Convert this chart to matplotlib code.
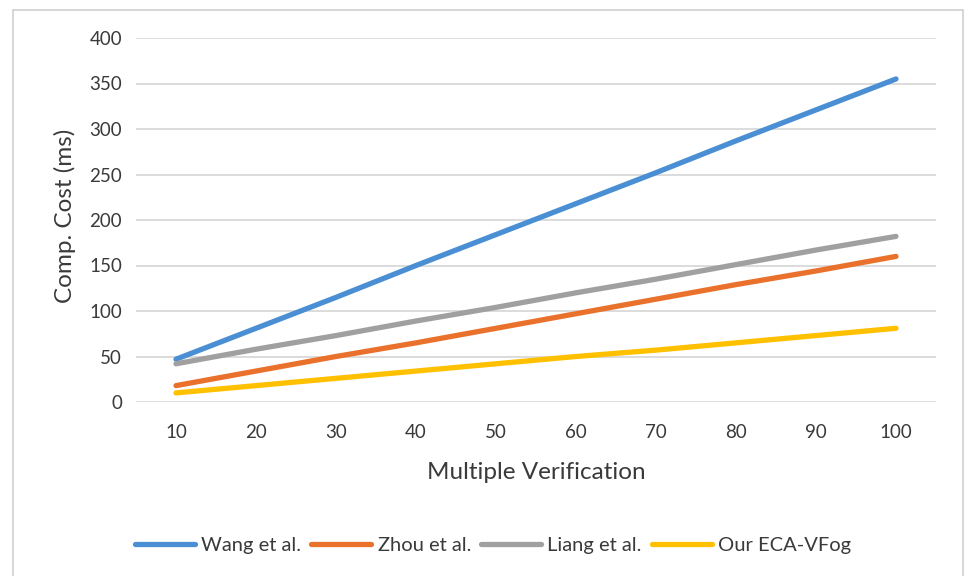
import matplotlib
matplotlib.use("Agg")
import matplotlib.pyplot as plt

x = [10, 20, 30, 40, 50, 60, 70, 80, 90, 100]
wang = [47, 81, 115, 150, 184, 218, 252, 287, 321, 355]
zhou = [18, 34, 50, 65, 81, 97, 113, 129, 144, 160]
liang = [42, 58, 73, 89, 104, 120, 135, 151, 167, 182]
ours = [10, 18, 26, 34, 42, 50, 57, 65, 73, 81]
names = ["Wang et al.", "Zhou et al.", "Liang et al.", "Our ECA-VFog"]
colors = ["#4A8FD4", "#E9712B", "#A0A0A0", "#FFC000"]

plt.rcParams['font.family'] = ['Lato', 'DejaVu Sans']
txt = "#3a3a3a"

fig = plt.figure(figsize=(9.66, 5.76), dpi=100)
# outer frame
fig.patches.append(plt.Rectangle((13/966, -0.01), (963-13)/966, 1 - 10/576 + 0.01,
                                 transform=fig.transFigure, fill=False,
                                 edgecolor="#d0d0d0", lw=1.2))
ax = fig.add_axes([136/966, 1 - 402/576, 800/966, 364/576])
for ys, c, n in zip([wang, zhou, liang, ours], colors, names):
    ax.plot(x, ys, color=c, lw=3.8, label=n, solid_capstyle="round", zorder=3)

ax.set_xlim(5, 105)
ax.set_ylim(0, 400)
ax.set_xticks(x)
ax.set_yticks(range(0, 401, 50))
ax.grid(axis="y", color="#d9d9d9", lw=1.3)
ax.set_axisbelow(True)
for s in ax.spines.values():
    s.set_visible(False)
ax.tick_params(length=0, labelsize=13.5, labelcolor=txt)
ax.tick_params(axis="y", pad=10)
ax.tick_params(axis="x", pad=16)
ax.set_xlabel("Multiple Verification", fontsize=17.5, color=txt)
ax.set_ylabel("Comp. Cost (ms)", fontsize=17.5, color=txt)
ax.xaxis.set_label_coords(0.5, (402 - 462) / 364)
ax.yaxis.set_label_coords((76 - 136) / 800, 0.51)

fig.legend(loc="center", bbox_to_anchor=(493/966, 1 - 545/576), ncol=4, frameon=False,
           fontsize=14.5, labelcolor=txt, handlelength=3.0, handletextpad=0.3,
           columnspacing=0.5)

fig.savefig("out.png", dpi=100)
